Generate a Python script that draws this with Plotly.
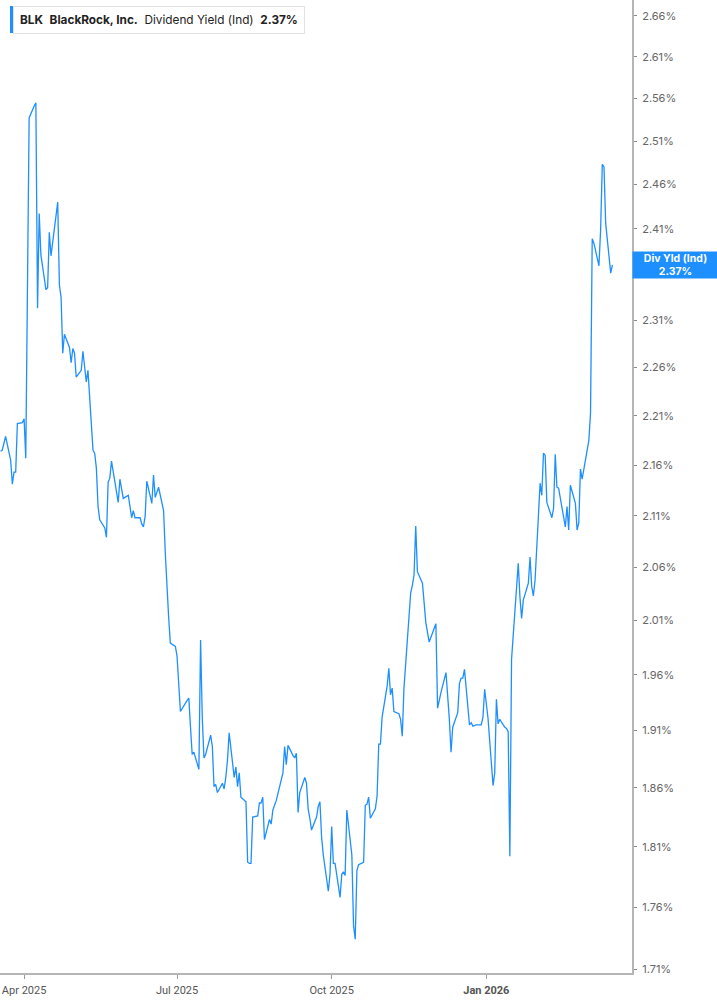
import math
import pandas as pd
import plotly.graph_objects as go

# ---- data -------------------------------------------------------------
start_date = "2025-03-18"
market_holidays = ["2025-04-18", "2025-05-26", "2025-06-19", "2025-07-04", "2025-09-01",
                   "2025-11-27", "2025-12-25", "2026-01-01", "2026-01-19", "2026-02-16"]

div_yield = [
    2.174, 2.175, 2.182, 2.189, 2.165, 2.141, 2.153, 2.153, 2.202, 2.203,
    2.207, 2.167, 2.343, 2.537, 2.551, 2.555, 2.323, 2.427, 2.381, 2.343,
    2.345, 2.406, 2.380, 2.440, 2.348, 2.335, 2.275, 2.295, 2.281, 2.265,
    2.280, 2.275, 2.250, 2.257, 2.277, 2.263, 2.245, 2.257, 2.175, 2.172,
    2.157, 2.119, 2.106, 2.098, 2.089, 2.143, 2.147, 2.164, 2.123, 2.146,
    2.135, 2.127, 2.130, 2.119, 2.108, 2.115, 2.108, 2.108, 2.102, 2.099,
    2.109, 2.144, 2.122, 2.150, 2.128, 2.138, 2.115,
    2.074, 2.039, 2.013, 1.989, 1.986, 1.977, 1.946, 1.927, 1.937, 1.939,
    1.913, 1.889, 1.891, 1.876, 1.992, 1.922, 1.886, 1.889, 1.906, 1.896,
    1.861, 1.863, 1.856, 1.864, 1.859, 1.869, 1.884, 1.908, 1.869, 1.878,
    1.861, 1.873, 1.852, 1.848, 1.797, 1.796, 1.796, 1.835, 1.836, 1.847,
    1.847, 1.852, 1.816, 1.833, 1.829, 1.841, 1.845, 1.849, 1.873, 1.896,
    1.880, 1.897, 1.888, 1.886, 1.890, 1.839, 1.856, 1.869, 1.864, 1.842,
    1.834, 1.824, 1.835, 1.844, 1.848, 1.818, 1.803, 1.773, 1.787, 1.827,
    1.796, 1.796, 1.768, 1.787, 1.789, 1.786, 1.841, 1.803, 1.745, 1.734,
    1.790, 1.795, 1.797, 1.845, 1.846, 1.852, 1.834, 1.842, 1.853, 1.898,
    1.898, 1.922, 1.950, 1.966, 1.942, 1.948, 1.927, 1.925, 1.920, 1.905,
    1.948, 1.971, 2.036, 2.043, 2.053, 2.100, 2.056, 2.045, 2.026, 2.008,
    1.990, 2.004, 2.007, 1.930, 1.937, 1.944, 1.962, 1.944, 1.920, 1.891,
    1.913, 1.926, 1.952, 1.957, 1.957, 1.965, 1.915, 1.917, 1.914, 1.915,
    1.915, 1.922, 1.947, 1.921, 1.862, 1.873, 1.938, 1.916, 1.920, 1.913,
    1.912, 1.909, 1.802, 1.974, 2.064, 2.032, 2.012, 2.029, 2.045, 2.070,
    2.042, 2.033, 2.048, 2.142, 2.130, 2.172, 2.170, 2.123, 2.108,
    2.117, 2.171, 2.138, 2.137, 2.099, 2.119, 2.096, 2.140, 2.122, 2.096,
    2.103, 2.156, 2.146, 2.178, 2.185, 2.213, 2.399, 2.394, 2.369, 2.409,
    2.483, 2.480, 2.416, 2.361, 2.370,
]

y_ticks = [1.71, 1.76, 1.81, 1.86, 1.91, 1.96, 2.01, 2.06, 2.11, 2.16,
           2.21, 2.26, 2.31, 2.36, 2.41, 2.46, 2.51, 2.56, 2.61, 2.66]
x_ticks = ["2025-04-01", "2025-07-01", "2025-10-01", "2026-01-01"]
x_tick_labels = ["Apr 2025", "Jul 2025", "Oct 2025", "<b>Jan 2026</b>"]

ticker = "BLK"
company = "BlackRock, Inc."
metric = "Dividend Yield (Ind)"
short_metric = "Div Yld (Ind)"
last_value = 2.37

# ---- build -----------------------------------------------------------
dates = pd.bdate_range(start=start_date, periods=len(div_yield), freq="C",
                       holidays=market_holidays)

BLUE = "#1e8fff"
AXIS = "#b5b5b5"

fig = go.Figure()
fig.add_trace(go.Scatter(x=dates, y=div_yield, mode="lines",
                         line=dict(color=BLUE, width=1.3),
                         hoverinfo="skip", showlegend=False))

# the tick hidden behind the last-value badge keeps its mark but no text
y_tick_text = ["" if abs(v - 2.36) < 1e-9 else f"{v:.2f}%" for v in y_ticks]

fig.update_layout(
    width=717, height=1005, autosize=False,
    margin=dict(l=0, r=85, t=0, b=32),
    paper_bgcolor="white", plot_bgcolor="white",
    showlegend=False,
    xaxis=dict(
        type="date",
        range=["2025-03-17 16:00", "2026-03-28 16:00"],
        showgrid=False, zeroline=False,
        showline=True, linecolor=AXIS, linewidth=1.5,
        ticks="outside", ticklen=4, tickcolor="#999", tickwidth=1,
        tickvals=x_ticks, ticktext=x_tick_labels,
        tickfont=dict(family="Roboto", size=11, color="#555"),
        ticklabelstandoff=2,
    ),
    yaxis=dict(
        type="log", side="right",
        range=[math.log10(1.7071), math.log10(2.6795)],
        showgrid=False, zeroline=False,
        showline=True, linecolor=AXIS, linewidth=2,
        ticks="outside", ticklen=3, tickcolor="#888", tickwidth=1,
        tickvals=y_ticks, ticktext=y_tick_text,
        tickfont=dict(family="Inter", size=11, color="#666"),
        ticklabelstandoff=3,
    ),
)

# legend box
NB = "\u00a0"
fig.add_annotation(
    xref="paper", yref="paper", x=13 / 632, y=1 - 6 / 973,
    xanchor="left", yanchor="top", showarrow=False, align="left",
    text=f"<b>{ticker}</b>{NB*2}<b>{company}</b>{NB*2}{metric}{NB*2}<b>{last_value:.2f}%</b>",
    font=dict(family="Inter", size=11.8, color="#222"),
    bgcolor="white", bordercolor="#e2e2e2", borderwidth=1, borderpad=6,
)
fig.add_shape(type="rect", xref="paper", yref="paper",
              x0=10 / 632, x1=13 / 632, y0=1 - 33 / 973, y1=1 - 6 / 973,
              fillcolor=BLUE, line=dict(width=0), layer="above")

# last value label on the axis
fig.add_annotation(
    xref="paper", yref="y", x=1, y=math.log10(last_value),
    xanchor="left", yanchor="middle", showarrow=False, align="center",
    text=f"<b>{short_metric}</b><br><b>{last_value:.2f}%</b>",
    font=dict(family="Inter", size=10.5, color="white"),
    bgcolor=BLUE, width=85, height=26, borderpad=0,
)

fig.write_html("out.html", config={"displayModeBar": False},
               post_script="document.body.style.margin='0px';document.body.style.overflow='hidden';")
